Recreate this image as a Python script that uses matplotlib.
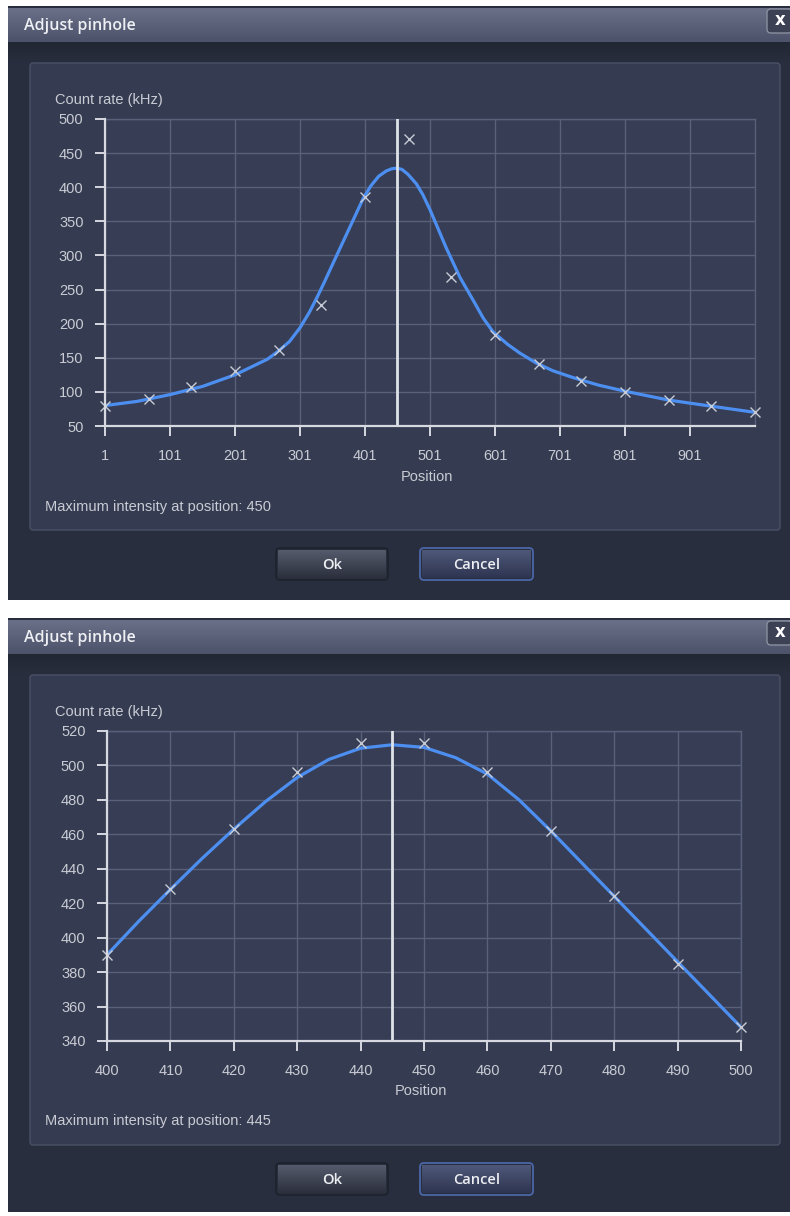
import numpy as np
import matplotlib
matplotlib.use("Agg")
import matplotlib.pyplot as plt
from matplotlib.patches import FancyBboxPatch, Rectangle
from matplotlib.colors import LinearSegmentedColormap

# ---------------- data ----------------
# Top dialog: full scan
top_marker_pos = [1, 68, 134, 201, 268, 334, 401, 468, 534, 601, 668, 734, 801, 868, 934, 1001]
top_marker_val = [80, 90, 107, 131, 161, 228, 386, 471, 268, 184, 141, 116, 100, 88, 79, 71]
top_curve_pos = [1, 50, 101, 151, 201, 251, 268, 285, 301, 315, 328, 340, 355, 377, 398, 410,
                 422, 434, 442, 450, 458, 467, 480, 490, 501, 514, 526, 547, 567, 583, 598,
                 620, 639, 665, 690, 721, 760, 801, 868, 934, 1001]
top_curve_val = [80, 86, 96, 108, 125, 148, 160, 174, 194, 216, 240, 264, 295, 340, 383, 402,
                 416, 424, 427, 428, 426, 419, 405, 389, 367, 338, 311, 268, 235, 208, 188,
                 170, 157, 142, 131, 121, 110, 101, 88, 79, 70]
top_xticks = [1, 101, 201, 301, 401, 501, 601, 701, 801, 901]
top_yticks = [50, 100, 150, 200, 250, 300, 350, 400, 450, 500]
top_max_pos = 450

# Bottom dialog: fine scan
bot_marker_pos = [400, 410, 420, 430, 440, 450, 460, 470, 480, 490, 500]
bot_marker_val = [390, 428, 463, 496, 513, 513, 496, 462, 424, 385, 348]
bot_curve_pos = [400, 405, 410, 415, 420, 425, 430, 435, 440, 445, 450, 455, 460,
                 465, 470, 475, 480, 485, 490, 495, 500]
bot_curve_val = [390, 409.5, 428, 446, 463, 479, 493, 503.5, 510, 512, 510.5, 504.5, 495,
                 480, 462, 443, 424, 405, 386, 367, 348]
bot_xticks = [400, 410, 420, 430, 440, 450, 460, 470, 480, 490, 500]
bot_yticks = [340, 360, 380, 400, 420, 440, 460, 480, 500, 520]
bot_max_pos = 445

TITLE = "Adjust pinhole"
YLABEL = "Count rate (kHz)"
XLABEL = "Position"
MAXTEXT = "Maximum intensity at position: {}"

# ---------------- style ----------------
W, H = 790, 1216
FONT = "Liberation Sans"
UIFONT = "Open Sans"
body_col = "#292e3e"
panel_col = "#353b50"
panel_edge = "#4a5166"
plot_bg = "#363d54"
grid_col = "#58607a"
axis_col = "#d6d9e0"
text_col = "#c9ccd4"
curve_col = "#4d8ff0"
marker_col = "#c8ccd6"
maxline_col = "#dfe2e8"

fig = plt.figure(figsize=(W / 100, H / 100), dpi=100, facecolor="white")
bg = fig.add_axes([0, 0, 1, 1])
bg.axis("off")


def px2fig(x0, y0, x1, y1):
    return [x0 / W, 1 - y1 / H, (x1 - x0) / W, (y1 - y0) / H]


def gradient(x0, y0, x1, y1, c_top, c_bot, z=1):
    cmap = LinearSegmentedColormap.from_list("g", [c_top, c_bot])
    bg.imshow(np.linspace(0, 1, 64).reshape(-1, 1), extent=(x0, x1, y1, y0),
              origin="upper", cmap=cmap, aspect="auto", zorder=z, interpolation="bilinear")


def rbox(x0, y0, x1, y1, fc, ec="none", lw=1, r=4, z=2):
    bg.add_patch(FancyBboxPatch((x0 + r, y0 + r), x1 - x0 - 2 * r, y1 - y0 - 2 * r,
                                boxstyle=f"round,pad={r}", fc=fc, ec=ec, lw=lw, zorder=z))


def button(x0, y0, x1, y1, label, top, bottom, edge):
    gradient(x0 + 2, y0 + 2, x1 - 2, y1 - 2, top, bottom, z=3)
    rbox(x0, y0, x1, y1, fc="none", ec=edge, lw=1.3, r=4, z=4)
    bg.text((x0 + x1) / 2, (y0 + y1) / 2 + 1, label, ha="center", va="center",
            color="#eceef2", fontsize=10.5, fontweight="semibold", family=[UIFONT, "DejaVu Sans"], zorder=5)


def dialog(yo, yb, panel_bottom):
    bg.add_patch(Rectangle((8, yo), W - 8, yb - yo, fc=body_col, ec="none", zorder=0.5))
    gradient(8, yo + 2, W, yo + 36, "#6a7087", "#4c5269", z=1)
    gradient(8, yo + 36, W, yo + 56, "#222734", body_col, z=0.8)
    bg.text(24, yo + 20, TITLE, ha="left", va="center", color="#eef0f4", fontsize=11.5,
            fontweight="semibold", family=[UIFONT, "DejaVu Sans"], zorder=5)
    # close button
    rbox(767, yo + 3, 792, yo + 27, fc="#3c4254", ec="#8a90a0", lw=1, r=4, z=3)
    bg.text(780, yo + 14, "x", ha="center", va="center", color="white", fontsize=12,
            fontweight="bold", family="DejaVu Sans", zorder=5)
    # inner panel
    rbox(30, yo + 57, 780, panel_bottom, fc=panel_col, ec=panel_edge, lw=1, r=3, z=1.5)


def chart(rect, cpos, cval, mpos, mval, xticks, yticks, xlim, ylim, maxpos):
    ax = fig.add_axes(px2fig(*rect))
    ax.set_facecolor(plot_bg)
    ax.plot(cpos, cval, color=curve_col, lw=2.3, zorder=3, solid_capstyle="round",
            solid_joinstyle="round")
    ax.plot(mpos, mval, ls="none", marker="x", ms=7, mew=1.0, color=marker_col, zorder=4,
            clip_on=False)
    ax.axvline(maxpos, color=maxline_col, lw=2.0, zorder=5)
    ax.set_xlim(*xlim)
    ax.set_ylim(*ylim)
    ax.set_xticks(xticks)
    ax.set_xticklabels([str(t) for t in xticks])
    ax.set_yticks(yticks)
    ax.set_yticklabels([str(t) for t in yticks])
    ax.grid(True, color=grid_col, lw=1.0, zorder=1)
    ax.set_axisbelow(True)
    for s in ("top", "right"):
        ax.spines[s].set_color(grid_col)
        ax.spines[s].set_linewidth(1.0)
    for s in ("left", "bottom"):
        ax.spines[s].set_color(axis_col)
        ax.spines[s].set_linewidth(1.6)
        ax.spines[s].set_zorder(6)
    ax.tick_params(axis="both", direction="out", length=7.5, width=1.4, color=axis_col,
                   labelcolor=text_col, labelsize=10.5)
    ax.tick_params(axis="x", pad=9)
    ax.tick_params(axis="y", pad=8)
    for lab in ax.get_xticklabels() + ax.get_yticklabels():
        lab.set_family(FONT)
    return ax


# ---------------- top dialog ----------------
dialog(6, 600, 530)
chart((105, 119, 755, 426), top_curve_pos, top_curve_val, top_marker_pos, top_marker_val,
      top_xticks, top_yticks, (1, 1001), (50, 500), top_max_pos)
bg.text(55, 100, YLABEL, ha="left", va="center", color=text_col, fontsize=10.5, family=FONT, zorder=5)
bg.text(427, 477, XLABEL, ha="center", va="center", color=text_col, fontsize=10.5, family=FONT, zorder=5)
bg.text(45, 507, MAXTEXT.format(top_max_pos), ha="left", va="center", color=text_col,
        fontsize=10.5, family=FONT, zorder=5)
button(276, 548, 388, 580, "Ok", "#555b6c", "#2c303d", "#1f232d")
button(420, 548, 533, 580, "Cancel", "#4f5879", "#2e3551", "#4b67a8")

# ---------------- bottom dialog ----------------
dialog(618, 1212, 1145)
chart((107, 731, 741, 1041), bot_curve_pos, bot_curve_val, bot_marker_pos, bot_marker_val,
      bot_xticks, bot_yticks, (400, 500), (340, 520), bot_max_pos)
bg.text(55, 712, YLABEL, ha="left", va="center", color=text_col, fontsize=10.5, family=FONT, zorder=5)
bg.text(421, 1091, XLABEL, ha="center", va="center", color=text_col, fontsize=10.5, family=FONT, zorder=5)
bg.text(45, 1121, MAXTEXT.format(bot_max_pos), ha="left", va="center", color=text_col,
        fontsize=10.5, family=FONT, zorder=5)
button(276, 1163, 388, 1195, "Ok", "#555b6c", "#2c303d", "#1f232d")
button(420, 1163, 533, 1195, "Cancel", "#4f5879", "#2e3551", "#4b67a8")

bg.set_xlim(0, W)
bg.set_ylim(H, 0)

fig.savefig("out.png", dpi=100, facecolor="white")
